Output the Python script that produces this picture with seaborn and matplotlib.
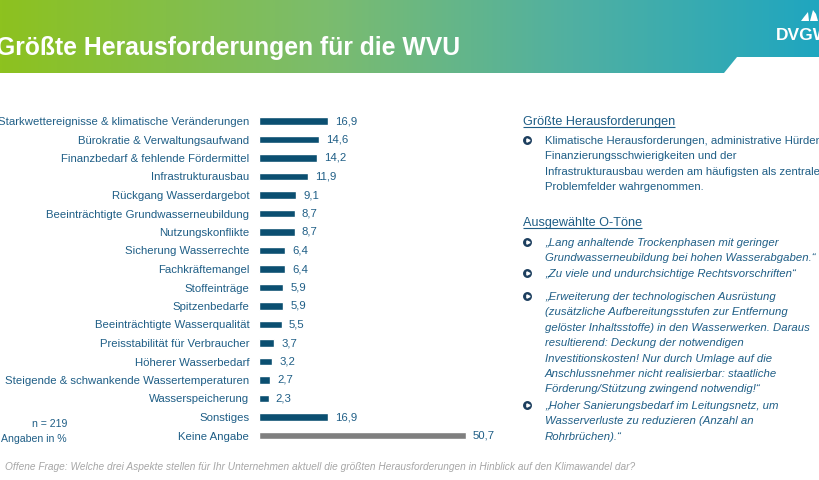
import numpy as np
import pandas as pd
import matplotlib
matplotlib.use("Agg")
import matplotlib.pyplot as plt
import seaborn as sns
from matplotlib.colors import LinearSegmentedColormap
from matplotlib.patches import Polygon

# ---------------- data ----------------
categories = [
    "Starkwettereignisse & klimatische Veränderungen",
    "Bürokratie & Verwaltungsaufwand",
    "Finanzbedarf & fehlende Fördermittel",
    "Infrastrukturausbau",
    "Rückgang Wasserdargebot",
    "Beeinträchtigte Grundwasserneubildung",
    "Nutzungskonflikte",
    "Sicherung Wasserrechte",
    "Fachkräftemangel",
    "Stoffeinträge",
    "Spitzenbedarfe",
    "Beeinträchtigte Wasserqualität",
    "Preisstabilität für Verbraucher",
    "Höherer Wasserbedarf",
    "Steigende & schwankende Wassertemperaturen",
    "Wasserspeicherung",
    "Sonstiges",
    "Keine Angabe",
]
values = [16.9, 14.6, 14.2, 11.9, 9.1, 8.7, 8.7, 6.4, 6.4, 5.9, 5.9, 5.5,
          3.7, 3.2, 2.7, 2.3, 16.9, 50.7]
groups = ["Antwort"] * 17 + ["Keine Angabe"]

title = "Größte Herausforderungen für die WVU"
heading1 = "Größte Herausforderungen"
summary_lines = [
    "Klimatische Herausforderungen, administrative Hürden,",
    "Finanzierungsschwierigkeiten und der",
    "Infrastrukturausbau werden am häufigsten als zentrale",
    "Problemfelder wahrgenommen.",
]
heading2 = "Ausgewählte O-Töne"
quotes = [
    ["„Lang anhaltende Trockenphasen mit geringer",
     "Grundwasserneubildung bei hohen Wasserabgaben.“"],
    ["„Zu viele und undurchsichtige Rechtsvorschriften“"],
    ["„Erweiterung der technologischen Ausrüstung",
     "(zusätzliche Aufbereitungsstufen zur Entfernung",
     "gelöster Inhaltsstoffe) in den Wasserwerken. Daraus",
     "resultierend: Deckung der notwendigen",
     "Investitionskosten! Nur durch Umlage auf die",
     "Anschlussnehmer nicht realisierbar: staatliche",
     "Förderung/Stützung zwingend notwendig!“"],
    ["„Hoher Sanierungsbedarf im Leitungsnetz, um",
     "Wasserverluste zu reduzieren (Anzahl an",
     "Rohrbrüchen).“"],
]
footer = ("Offene Frage: Welche drei Aspekte stellen für Ihr Unternehmen aktuell "
          "die größten Herausforderungen in Hinblick auf den Klimawandel dar?")
note_lines = ["n = 219", "Angaben in %"]

# ---------------- style ----------------
sns.set_theme(style="white")
plt.rcParams['font.family'] = ['Liberation Sans', 'DejaVu Sans']

TXT = "#1F5E86"
BAR = "#0B4F71"
GREY = "#7F7F7F"
BULLET = "#1C3E5E"

W, H = 820, 480
fig = plt.figure(figsize=(8.2, 4.8), dpi=100)
fig.patch.set_facecolor("white")

bg = fig.add_axes([0, 0, 1, 1])
bg.axis('off')

# header gradient band
cmap = LinearSegmentedColormap.from_list(
    "hdr", [(0.0, "#8DC21F"), (0.4, "#7BBC6E"), (0.7, "#50B0A2"), (1.0, "#1FA6C0")])
grad = np.linspace(0, 1, 512)[None, :]
im = bg.imshow(grad, extent=(0, W, 73, 0), aspect='auto', cmap=cmap, zorder=0)
clip = Polygon([(0, 0), (W, 0), (W, 57), (737, 57), (724, 73), (0, 73)],
               closed=True, transform=bg.transData, facecolor='none', edgecolor='none')
bg.add_patch(clip)
im.set_clip_path(clip)
bg.set_xlim(0, W)
bg.set_ylim(H, 0)

bg.text(-4, 47.5, title, fontsize=17.8, fontweight='bold', color='white',
        va='center', ha='left')
# DVGW logo
bg.text(776, 35, "DVGW", fontsize=12.5, fontweight='bold', color='white',
        va='center', ha='left')
bg.add_patch(Polygon([(801, 21), (809, 21), (808, 12), (804, 17)], closed=True,
                     facecolor='white', edgecolor='none'))
bg.add_patch(Polygon([(810, 21), (818, 21), (816, 14), (813, 10)], closed=True,
                     facecolor='white', edgecolor='none'))

# ---------------- bar chart ----------------
px_per_unit = 4.08
x0 = 259.3
xmax = 56
row0, step = 121.0, 18.5
n = len(categories)
top = row0 - step / 2
bottom = row0 + (n - 1) * step + step / 2
ax = fig.add_axes([x0 / W, 1 - bottom / H, px_per_unit * xmax / W, (bottom - top) / H])
ax.patch.set_alpha(0)

df = pd.DataFrame({"category": categories, "value": values, "group": groups})
sns.barplot(data=df, x="value", y="category", hue="group", orient="h",
            palette={"Antwort": BAR, "Keine Angabe": GREY}, dodge=False,
            width=0.42, saturation=1, legend=False, ax=ax)
ax.set_xlim(0, xmax)
ax.set_ylim(n - 0.5, -0.5)
ax.set_xticks([])
ax.set_xlabel("")
ax.set_ylabel("")
for s in ax.spines.values():
    s.set_visible(False)
ax.tick_params(axis='y', length=0, pad=7.2, labelsize=8.2, labelcolor=TXT)

for i, v in enumerate(values):
    ax.annotate(f"{v:.1f}".replace(".", ","), (v, i), xytext=(5, 0),
                textcoords='offset points', va='center', ha='left',
                fontsize=8.2, color=TXT)

for k, line in enumerate(note_lines):
    bg.text(67, 424 + k * 15, line, ha='right', va='center', fontsize=7.6, color=TXT)

# ---------------- right panel ----------------
fig.canvas.draw()
renderer = fig.canvas.get_renderer()


def heading(y, s):
    t = bg.text(523, y, s, fontsize=9.1, color=TXT, va='baseline', ha='left')
    bb = t.get_window_extent(renderer)
    bg.plot([523, 523 + bb.width], [y + 1.6, y + 1.6], color=TXT, lw=0.8,
            solid_capstyle='butt')


def bullet(y):
    bg.plot([527.5], [y], marker='o', markersize=5.4, color=BULLET, mec=BULLET,
            linestyle='none')
    bg.plot([528.0], [y], marker='>', markersize=2.3, color='white', mec='white',
            linestyle='none')


LS = 15.4
BODY = 8.2
heading(125, heading1)
bullet(140)
for k, line in enumerate(summary_lines):
    bg.text(545, 144 + k * LS, line, fontsize=BODY, color=TXT, va='baseline', ha='left')

heading(226, heading2)
q_starts = [242, 273, 296, 405]
for y0, q in zip(q_starts, quotes):
    bullet(y0)
    for k, line in enumerate(q):
        bg.text(545, y0 + 4 + k * LS, line, fontsize=BODY, color=TXT,
                style='italic', va='baseline', ha='left')

bg.text(5, 467, footer, fontsize=7.3, color="#A6A6A6", style='italic',
        va='center', ha='left')

fig.savefig("out.png", dpi=100)
